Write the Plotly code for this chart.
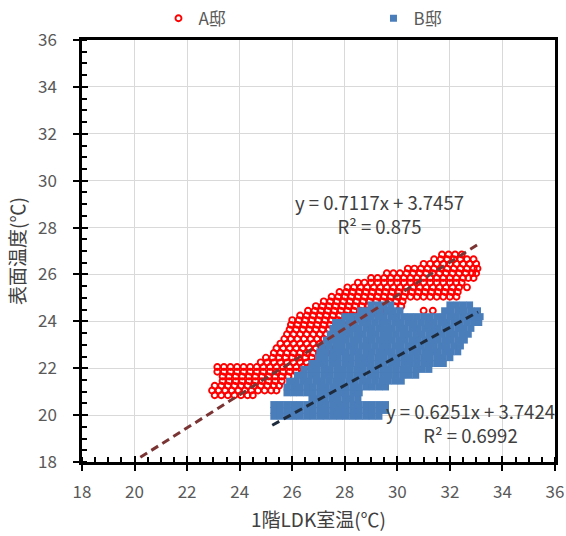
import plotly.graph_objects as go

# ---------------- data ----------------
tick_vals = [18, 20, 22, 24, 26, 28, 30, 32, 34, 36]
series_names = ["A邸", "B邸"]

# A邸 scatter: rows of (surface temp, [room temps])
a_rows = [
    (20.85, [23.05, 23.3, 23.55, 23.8, 24.05, 24.3, 24.5]),
    (21.05, [22.95, 23.2, 23.45, 23.7, 23.95, 24.2, 24.45, 24.7, 24.95, 25.2, 25.4]),
    (21.25, [23.05, 23.3, 23.55, 23.8, 24.05, 24.3, 24.55, 24.8, 25.05, 25.3, 25.5]),
    (21.45, [23.35, 23.6, 23.85, 24.1, 24.35, 24.6, 24.85, 25.1, 25.35, 25.6]),
    (21.65, [23.35, 23.6, 23.85, 24.1, 24.35, 24.6, 24.85, 25.1, 25.35, 25.6, 25.85]),
    (21.85, [23.15, 23.4, 23.65, 23.9, 24.15, 24.4, 24.65, 24.9, 25.15, 25.4, 25.65, 25.9, 26.15, 26.4]),
    (22.05, [23.15, 23.4, 23.65, 23.9, 24.15, 24.4, 24.65, 24.9, 25.15, 25.4, 25.65, 25.9, 26.15, 26.4, 26.65]),
    (22.25, [24.8, 25.05, 25.3, 25.55, 25.8, 26.05, 26.3, 26.55, 26.8]),
    (22.45, [25.0, 25.25, 25.5, 25.75, 26.0, 26.25, 26.5, 26.75, 27.0]),
    (22.65, [25.3, 25.55, 25.8, 26.05, 26.3, 26.55, 26.8, 27.05, 27.3]),
    (22.85, [25.4, 25.65, 25.9, 26.15, 26.4, 26.65, 26.9, 27.15, 27.4]),
    (23.05, [25.55, 25.8, 26.05, 26.3, 26.55, 26.8, 27.05, 27.3, 27.55]),
    (23.25, [25.7, 25.95, 26.2, 26.45, 26.7, 26.95, 27.2, 27.45, 27.7, 27.9]),
    (23.45, [25.8, 26.05, 26.3, 26.55, 26.8, 27.05, 27.3, 27.55, 27.8, 28.0]),
    (23.65, [25.9, 26.15, 26.4, 26.65, 26.9, 27.15, 27.4, 27.65, 27.9, 28.1]),
    (23.85, [25.95, 26.2, 26.45, 26.7, 26.95, 27.2, 27.45, 27.7, 27.95, 28.2]),
    (24.05, [26.0, 26.25, 26.5, 26.75, 27.0, 27.25, 27.5, 27.75, 28.0, 28.25, 28.4]),
    (24.25, [26.3, 26.55, 26.8, 27.05, 27.3, 27.55, 27.8, 28.05, 28.3, 28.55, 28.8, 29.0]),
    (24.45, [26.6, 26.85, 27.1, 27.35, 27.6, 27.85, 28.1, 28.35, 28.6, 28.85, 29.1, 29.35, 29.6, 31.0, 31.35]),
    (24.65, [26.9, 27.15, 27.4, 27.65, 27.9, 28.15, 28.4, 28.65, 28.9, 29.15, 29.4, 29.65, 29.9, 30.15]),
    (24.85, [27.2, 27.45, 27.7, 27.95, 28.2, 28.45, 28.7, 28.95, 29.2, 29.45, 29.7, 29.95, 30.2]),
    (25.05, [27.5, 27.75, 28.0, 28.25, 28.5, 28.75, 29.0, 29.25, 29.5, 29.75, 30.0, 30.25, 30.5,
             30.75, 31.0, 31.25, 31.5, 31.75, 32.0, 32.25]),
    (25.25, [27.8, 28.05, 28.3, 28.55, 28.8, 29.05, 29.3, 29.55, 29.8, 30.05, 30.3, 30.55, 30.8,
             31.05, 31.3, 31.55, 31.8, 32.05, 32.3]),
    (25.45, [28.1, 28.35, 28.6, 28.85, 29.1, 29.35, 29.6, 29.85, 30.1, 30.35, 30.6, 30.85, 31.1,
             31.35, 31.6, 31.85, 32.1, 32.35, 32.65]),
    (25.65, [28.5, 28.75, 29.0, 29.25, 29.5, 29.75, 30.0, 30.25, 30.5, 30.75, 31.0, 31.25, 31.5,
             31.75, 32.0, 32.25, 32.45]),
    (25.85, [29.0, 29.25, 29.5, 29.75, 30.0, 30.25, 30.5, 30.75, 31.0, 31.25, 31.5, 31.75, 32.0,
             32.25, 32.5, 32.7, 32.9]),
    (26.05, [29.6, 29.85, 30.1, 30.35, 30.6, 30.85, 31.1, 31.35, 31.6, 31.85, 32.1, 32.35, 32.6,
             32.85, 33.0]),
    (26.25, [30.4, 30.65, 30.9, 31.15, 31.4, 31.65, 31.9, 32.15, 32.4, 32.65, 32.9, 33.05]),
    (26.45, [31.0, 31.25, 31.5, 31.75, 32.0, 32.25, 32.5, 32.75, 33.0]),
    (26.65, [31.4, 31.65, 31.9, 32.15, 32.4, 32.65, 32.9]),
    (26.85, [31.7, 31.95, 32.2, 32.45]),
]

# B邸 scatter: rows of (surface temp, [room temps])
b_rows = [
    (19.95, [25.3, 25.55, 25.8, 26.05, 26.3, 26.55, 26.8, 27.05, 27.3, 27.55, 27.8, 28.05, 28.3,
             28.55, 28.8, 29.05, 29.3]),
    (20.2, [25.3, 25.55, 25.8, 26.05, 26.3, 26.55, 26.8, 27.05, 27.3, 27.55, 27.8, 28.05, 28.3,
            28.55, 28.8, 29.05, 29.3, 29.55]),
    (20.45, [25.3, 25.55, 25.8, 26.05, 26.3, 26.55, 26.8, 27.05, 27.3, 27.55, 27.8, 28.05, 28.3,
             28.55, 28.8, 29.05, 29.3, 29.55]),
    (20.7, [26.75, 27.0, 27.25, 27.5, 27.75, 28.0, 28.25, 28.5]),
    (20.95, [25.8, 26.05, 26.3, 26.55, 26.8, 27.05, 27.3, 27.55, 27.8, 28.05, 28.3, 28.55]),
    (21.2, [25.8, 26.05, 26.3, 26.55, 26.8, 27.05, 27.3, 27.55, 27.8, 28.05, 28.3, 28.55, 28.8,
            29.05, 29.3, 29.55]),
    (21.45, [25.9, 26.15, 26.4, 26.65, 26.9, 27.15, 27.4, 27.65, 27.9, 28.15, 28.4, 28.65, 28.9,
             29.15, 29.4, 29.65, 29.9, 30.15]),
    (21.7, [26.2, 26.45, 26.7, 26.95, 27.2, 27.45, 27.7, 27.95, 28.2, 28.45, 28.7, 28.95, 29.2,
            29.45, 29.7, 29.95, 30.2, 30.45, 30.7]),
    (21.95, [26.45, 26.7, 26.95, 27.2, 27.45, 27.7, 27.95, 28.2, 28.45, 28.7, 28.95, 29.2, 29.45,
             29.7, 29.95, 30.2, 30.45, 30.7, 30.95, 31.2]),
    (22.2, [26.75, 27.0, 27.25, 27.5, 27.75, 28.0, 28.25, 28.5, 28.75, 29.0, 29.25, 29.5, 29.75,
            30.0, 30.25, 30.5, 30.75, 31.0, 31.25, 31.5, 31.75]),
    (22.45, [27.0, 27.25, 27.5, 27.75, 28.0, 28.25, 28.5, 28.75, 29.0, 29.25, 29.5, 29.75, 30.0,
             30.25, 30.5, 30.75, 31.0, 31.25, 31.5, 31.75, 32.0]),
    (22.7, [27.05, 27.3, 27.55, 27.8, 28.05, 28.3, 28.55, 28.8, 29.05, 29.3, 29.55, 29.8, 30.05,
            30.3, 30.55, 30.8, 31.05, 31.3, 31.55, 31.8, 32.05, 32.3]),
    (22.95, [27.15, 27.4, 27.65, 27.9, 28.15, 28.4, 28.65, 28.9, 29.15, 29.4, 29.65, 29.9, 30.15,
             30.4, 30.65, 30.9, 31.15, 31.4, 31.65, 31.9, 32.15, 32.4]),
    (23.2, [27.3, 27.55, 27.8, 28.05, 28.3, 28.55, 28.8, 29.05, 29.3, 29.55, 29.8, 30.05, 30.3,
            30.55, 30.8, 31.05, 31.3, 31.55, 31.8, 32.05, 32.3, 32.55]),
    (23.45, [27.45, 27.7, 27.95, 28.2, 28.45, 28.7, 28.95, 29.2, 29.45, 29.7, 29.95, 30.2, 30.45,
             30.7, 30.95, 31.2, 31.45, 31.7, 31.95, 32.2, 32.45, 32.7]),
    (23.7, [27.55, 27.8, 28.05, 28.3, 28.55, 28.8, 29.05, 29.3, 29.55, 29.8, 30.05, 30.3, 30.55,
            30.8, 31.05, 31.3, 31.55, 31.8, 32.05, 32.3, 32.55, 32.8]),
    (23.95, [27.65, 27.9, 28.15, 28.4, 28.65, 28.9, 29.15, 29.4, 29.65, 29.9, 30.15, 30.4, 30.65,
             30.9, 31.15, 31.4, 31.65, 31.9, 32.15, 32.4, 32.65, 32.9, 33.1]),
    (24.2, [28.0, 28.25, 28.5, 28.75, 29.0, 29.25, 29.5, 29.75, 30.0, 30.25, 30.5, 30.75, 31.0,
            31.25, 31.5, 31.75, 32.0, 32.25, 32.5, 32.75, 33.0, 33.15]),
    (24.45, [28.6, 28.85, 29.1, 29.35, 29.6, 29.85, 30.1, 31.8, 32.05, 32.3, 32.55, 32.8, 33.05]),
    (24.7, [29.0, 29.25, 29.5, 29.75, 32.0, 32.25, 32.5, 32.75]),
]

# linear trend lines (end points as drawn)
trend_a_x = [20.22, 33.07]
trend_a_y = [18.2, 27.28]
trend_b_x = [25.24, 33.07]
trend_b_y = [19.57, 24.40]

eq_texts = ["y = 0.7117x + 3.7457<br>R² = 0.875", "y = 0.6251x + 3.7424<br>R² = 0.6992"]
eq_x = [29.34, 32.80]
eq_y = [28.59, 19.65]

# ---------------- build ----------------
ax = [x for y, xs in a_rows for x in xs]
ay = [y for y, xs in a_rows for _ in xs]
bx = [x for y, xs in b_rows for x in xs]
by = [y for y, xs in b_rows for _ in xs]

FONT = "Noto Sans CJK JP, Noto Sans, sans-serif"
TICKC = "#595959"

fig = go.Figure()
fig.add_trace(go.Scatter(
    x=ax, y=ay, mode="markers", name=series_names[0],
    marker=dict(symbol="circle-open", size=6, color="#ff0000",
                line=dict(color="#ff0000", width=1.9)),
))
fig.add_trace(go.Scatter(
    x=bx, y=by, mode="markers", name=series_names[1],
    marker=dict(symbol="square", size=7, color="#4a7ebb", line=dict(width=0)),
))
fig.add_trace(go.Scatter(
    x=trend_a_x, y=trend_a_y, mode="lines", showlegend=False,
    line=dict(color="#7b3434", width=3, dash="8px,5px"),
))
fig.add_trace(go.Scatter(
    x=trend_b_x, y=trend_b_y, mode="lines", showlegend=False,
    line=dict(color="#1e2b3c", width=3, dash="8px,5px"),
))
# dummy trace on overlay axes (inner half of the crossing major ticks)
fig.add_trace(go.Scatter(x=[None], y=[None], xaxis="x2", yaxis="y2",
                         showlegend=False, hoverinfo="skip"))

for t, x, y in zip(eq_texts, eq_x, eq_y):
    fig.add_annotation(x=x, y=y, text=t, showarrow=False, align="center",
                       font=dict(family=FONT, size=18.5, color="#404040"),
                       xanchor="center", yanchor="middle")

axis_common = dict(
    range=[18, 36], tickvals=tick_vals, showgrid=True, gridcolor="#d9d9d9", gridwidth=1,
    zeroline=False, showline=True, linecolor="black", linewidth=2.5, mirror=True,
    ticks="outside", ticklen=6, tickwidth=2, tickcolor="black", automargin=False,
    tickfont=dict(family=FONT, size=17, color=TICKC),
    minor=dict(ticks="inside", ticklen=5, tickwidth=2, tickcolor="black", dtick=0.5,
               showgrid=False),
)
fig.update_layout(
    width=566, height=536,
    margin=dict(l=82, r=11, t=40, b=74, autoexpand=False),
    paper_bgcolor="white", plot_bgcolor="white",
    font=dict(family=FONT, color=TICKC),
    xaxis=dict(axis_common, ticklabelstandoff=7,
               title=dict(text="1階LDK室温(℃)", standoff=12,
                          font=dict(family=FONT, size=19, color="#404040"))),
    yaxis=dict(axis_common, ticklabelstandoff=13,
               title=dict(text="表面温度(℃)", standoff=8,
                          font=dict(family=FONT, size=19, color="#404040"))),
    xaxis2=dict(range=[18, 36], overlaying="x", anchor="y", side="bottom",
                tickvals=tick_vals, ticks="inside", ticklen=6, tickwidth=2,
                tickcolor="black", showticklabels=False, showgrid=False,
                zeroline=False, showline=False, automargin=False),
    yaxis2=dict(range=[18, 36], overlaying="y", anchor="x", side="left",
                tickvals=tick_vals, ticks="inside", ticklen=6, tickwidth=2,
                tickcolor="black", showticklabels=False, showgrid=False,
                zeroline=False, showline=False, automargin=False),
    showlegend=True,
    legend=dict(orientation="h", xref="container", yref="container",
                x=0.28, y=0.965, xanchor="left", yanchor="middle",
                entrywidth=170, entrywidthmode="pixels",
                font=dict(family=FONT, size=17, color=TICKC),
                bgcolor="rgba(0,0,0,0)"),
)

fig.write_html("out.html")
